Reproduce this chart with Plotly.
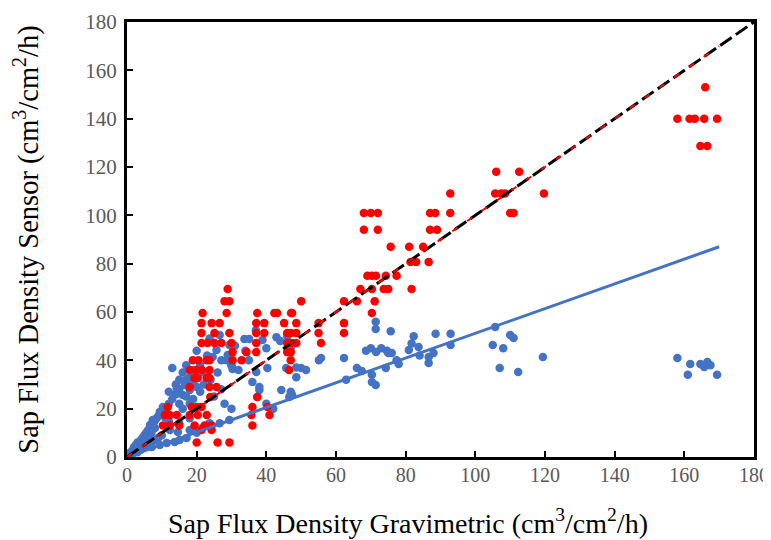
import plotly.graph_objects as go

# ---------------- data ----------------
red_x = [166,
         158, 161.5, 163, 165.7, 169.4,
         164.6, 166.6,
         106, 112.6,
         92.8, 105.7, 107.4, 108.5, 119.7,
         92.8, 68, 70, 72, 110, 111, 87, 88.5,
         68, 72, 87, 89,
         75.7, 81, 85,
         81.4, 83, 86.6,
         70.3, 71.5, 74.3, 77.4, 69,
         67, 70.3, 73.7, 75, 81.7, 28.9,
         62.3, 66, 71.1, 50, 28, 29.4,
         70.3, 47.1, 28.6, 21.7, 37.4, 42.3, 43.1, 47.4,
         48.6, 55, 62.3, 21.4, 24.3, 26.6, 37.1, 39.4, 45.1,
         55, 62.3, 47, 21.4, 25.1, 29.4, 37.1, 39.4, 46, 48.6,
         55.7, 47, 21.4, 23.1, 25.1, 27.1, 30, 37.1, 46, 48.6,
         47, 30.3, 34.3, 37.1, 46,
         47, 18.9, 23.7, 20.5, 22.9, 30.3, 32.9,
         18, 20, 21.5, 23.7, 46.5,
         20.3, 23.7, 19.4, 22.9,
         23.7, 25.7, 18,
         23.9, 37.4,
         18.6, 20, 21.4, 36, 40.3, 11.7,
         12.3, 10.9, 22.9, 35.7, 40.9, 18, 20.3, 14.3,
         10.3, 12.3, 15, 22.3, 24.3, 36, 19.4,
         21.4, 24.3,
         20, 26, 29.4]
red_y = [153,
         140, 140, 140, 140, 140,
         128.7, 128.7,
         118, 118,
         109, 109, 109, 109, 109,
         101, 101, 101, 101, 101, 101, 101, 101,
         94, 94, 94, 94,
         87, 87, 87,
         80.7, 80.7, 80.7,
         75, 75, 75, 75, 75,
         69.5, 69.5, 69.5, 69.5, 69.5, 69.5,
         64.5, 64.5, 64.5, 64.5, 64.5, 64.5,
         59.6, 59.6, 59.6, 59.6, 59.6, 59.6, 59.6, 59.6,
         55.4, 55.4, 55.4, 55.4, 55.4, 55.4, 55.4, 55.4, 55.4,
         51.3, 51.3, 51.3, 51.3, 51.3, 51.3, 51.3, 51.3, 51.3, 51.3,
         47.2, 47.2, 47.2, 47.2, 47.2, 47.2, 47.2, 47.2, 47.2, 47.2,
         43.4, 43.4, 43.4, 43.4, 43.4,
         40, 40, 40, 40, 40, 40, 40,
         36, 36, 36, 36, 36,
         32.7, 32.7, 32.7, 32.7,
         29, 29, 29,
         24.8, 24.8,
         20.7, 20.7, 20.7, 20.7, 20.7, 20.7,
         17.4, 17.4, 17.4, 17.4, 17.4, 17.4, 17.4, 17.4,
         13, 13, 13, 13, 13, 13, 13,
         11.2, 11.2,
         6, 6, 6]

blue_x = [158, 161.7, 164.6, 165.7, 166.6, 161, 169.4, 167.5,
          105.7, 105, 108, 110, 111, 107, 112.3, 119.4,
          82.3, 81.7, 83.7, 80.9, 88.6, 92.9, 92.9, 86.6, 86.6, 88, 76, 84,
          71.4, 71.4, 75.7, 68.6, 70, 71.5, 73, 74.6, 75, 62.3, 66, 67.4,
          70.3, 70.3, 71.4, 62.9, 74.3, 77.4, 78,
          55.7, 50, 48.6, 47, 47.4, 51.4, 55.1, 48.6, 45.7, 44.3, 47.1, 46.6,
          46, 48, 47,
          37, 33.7, 35.1, 42.9, 38.9, 36, 38, 37.1, 40.3, 37.4, 38, 40, 42,
          44, 32, 34, 40, 30, 31, 35,
          23.7, 26.6, 25.7, 29.4, 24.6, 27.1, 28.9, 28.6, 30, 30.3, 23.7,
          26.6, 29.4, 21.7, 22, 24, 26, 27, 25, 28, 30, 21, 22, 23, 20,
          13, 15, 16.6, 14.3, 16, 18, 17, 18, 19, 20, 21, 15, 14, 13, 12,
          11, 10.3, 9.4, 10.9, 7.4, 6.6, 15, 16, 17, 18, 19, 14, 12, 16,
          17, 19, 11.4, 13.7, 15.1, 17.1, 12.3, 14.6, 18, 20, 10, 12, 15, 18,
          0.5, 1, 1.7, 2, 2.5, 3, 3.5, 4, 4.5, 5, 5.5, 6, 6.5, 7, 7.5, 8,
          8.5, 9, 3, 4, 5, 6, 7, 8, 9, 9.4, 7.1, 6, 7, 8, 5, 4, 2, 1, 3,
          0, 1.5]
blue_y = [41, 38.5, 38.5, 37.2, 39.3, 34, 34, 38,
          53.8, 46.3, 45, 50.5, 49.2, 36.8, 35.2, 41.4,
          50, 47, 45.5, 44.3, 51, 51, 46.3, 41.4, 38.9, 43, 43, 42,
          56, 53, 52, 44, 45, 43.5, 45, 44, 43, 41, 36.8, 35.6,
          34, 31, 29.8, 32, 36.8, 40, 38.5,
          41, 36.8, 33, 27, 25.6, 36, 40, 37, 36.8, 27.7, 26.5, 24.8,
          50, 47, 45,
          52.5, 48.8, 48.8, 49.6, 48.4, 31, 29, 35.2, 36.8, 24.8, 27.7, 22, 20,
          48, 36, 44, 45, 38, 46, 40,
          49, 50.5, 44.3, 46.3, 41.4, 40, 42.2, 40, 38, 36.4, 14,
          14, 15.3, 12, 30, 32, 35, 28, 25, 22, 20, 38, 35, 42, 44,
          36.8, 32, 29.8, 28.5, 25.7, 27.7, 32, 33, 31, 29, 27, 28, 26, 24, 22,
          20, 20.7, 18.6, 16.5, 15.3, 13.2, 22, 20, 25, 22, 24, 30, 27, 35,
          38, 36, 5.8, 6.2, 7, 7.9, 11.2, 10.3, 11.2, 10, 9, 15, 14, 16,
          0.5, 1.5, 3, 4, 5, 6, 5.5, 7, 8, 9, 10, 11, 12, 13, 14, 15,
          16, 17, 2, 3, 4, 5, 6, 7, 8, 5, 4.1, 8, 10, 12, 7, 5, 2.5, 2, 4,
          0, 1]

# trend / reference lines (end points)
one_to_one_x = [0, 180]
one_to_one_y = [0, 180]
red_fit_x = [0, 170]
red_fit_y = [0, 170]
blue_fit_x = [0, 170]
blue_fit_y = [0, 87]

x_ticks = [0, 20, 40, 60, 80, 100, 120, 140, 160, 180]
y_ticks = [0, 20, 40, 60, 80, 100, 120, 140, 160, 180]

x_title = "Sap Flux Density Gravimetric (cm<sup>3</sup>/cm<sup>2</sup>/h)"
y_title = "Sap Flux Density Sensor (cm<sup>3</sup>/cm<sup>2</sup>/h)"

RED = "#FF0000"
BLUE = "#4472C4"
SERIF = "Liberation Serif, Times New Roman, serif"

fig = go.Figure()
fig.add_trace(go.Scatter(x=blue_x, y=blue_y, mode="markers",
                         marker=dict(color=BLUE, size=8.5, line=dict(width=0)),
                         showlegend=False))
fig.add_trace(go.Scatter(x=red_x, y=red_y, mode="markers",
                         marker=dict(color=RED, size=8.5, line=dict(width=0)),
                         showlegend=False))
fig.add_trace(go.Scatter(x=blue_fit_x, y=blue_fit_y, mode="lines",
                         line=dict(color=BLUE, width=3), showlegend=False))
fig.add_trace(go.Scatter(x=one_to_one_x, y=one_to_one_y, mode="lines",
                         line=dict(color="black", width=3, dash="14px,5px"),
                         showlegend=False))
fig.add_trace(go.Scatter(x=red_fit_x, y=red_fit_y, mode="lines",
                         line=dict(color=RED, width=2, dash="6px,12px"),
                         showlegend=False))

axis_common = dict(
    showgrid=False, zeroline=False, automargin=False,
    showline=True, linecolor="black", linewidth=3, mirror=True,
    ticks="inside", ticklen=6, tickwidth=2, tickcolor="black",
    ticklabeloverflow="allow",
)

# The page body adds an 8px offset, so the figure is 8px smaller than the window
fig.update_layout(
    width=763, height=532,
    margin=dict(l=119, r=17, t=14, b=83),
    paper_bgcolor="white", plot_bgcolor="white",
    font=dict(family=SERIF),
    xaxis=dict(range=[0, 180], tickvals=x_ticks, ticktext=[str(v) for v in x_ticks],
               ticklabelstandoff=-2,
               tickfont=dict(family=SERIF, size=20, color="#595959"),
               **axis_common),
    yaxis=dict(range=[0, 180], tickvals=y_ticks, ticktext=[str(v) for v in y_ticks],
               ticklabelstandoff=3,
               tickfont=dict(family=SERIF, size=21, color="#595959"),
               title=dict(text=y_title,
                          font=dict(family=SERIF, size=28.5, color="black"),
                          standoff=40),
               **axis_common),
    annotations=[dict(text=x_title, xref="paper", yref="paper",
                      x=0.448, y=0, yshift=-64, xanchor="center", yanchor="middle",
                      showarrow=False,
                      font=dict(family=SERIF, size=28, color="black"))],
)

fig.write_html("out.html")
